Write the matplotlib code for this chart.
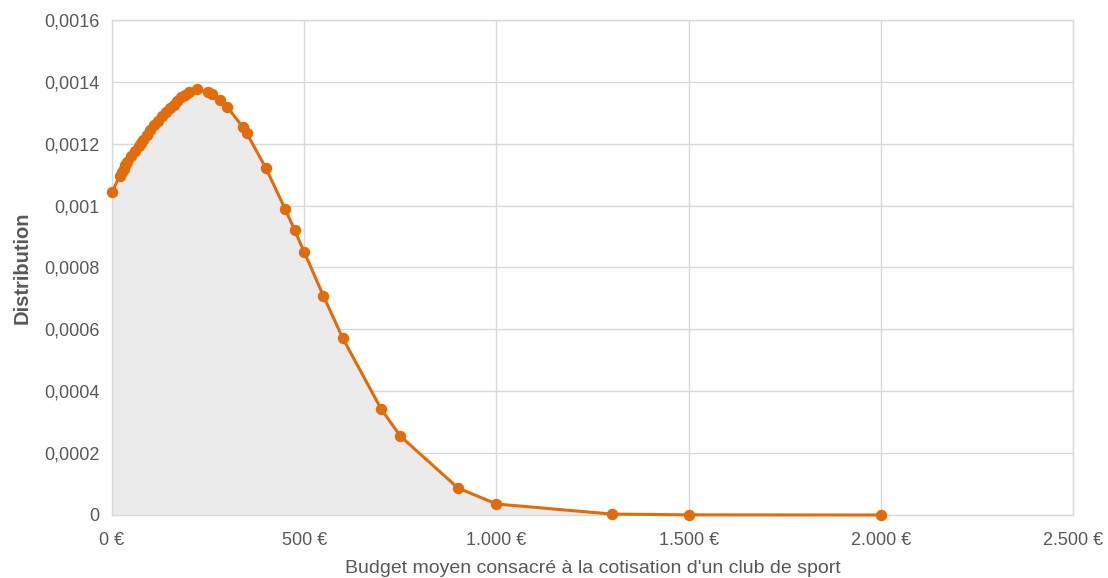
import matplotlib
matplotlib.use("Agg")
import matplotlib.pyplot as plt
from matplotlib.ticker import FuncFormatter, MultipleLocator

budget = [0, 20, 25, 30, 35, 40, 50, 60, 70, 75, 80, 90, 100, 110, 120, 130, 140,
          150, 160, 170, 180, 190, 200, 220, 250, 260, 280, 300, 340, 350, 400,
          450, 475, 500, 550, 600, 700, 750, 900, 1000, 1300, 1500, 2000]
distribution = [0.001044, 0.001096, 0.001109, 0.001118, 0.001131, 0.001141, 0.001160,
                0.001177, 0.001193, 0.001202, 0.001212, 0.001228, 0.001244, 0.001261,
                0.001273, 0.001290, 0.001303, 0.001316, 0.001325, 0.001338, 0.001351,
                0.001357, 0.001367, 0.001376, 0.001366, 0.001360, 0.001341, 0.001319,
                0.001254, 0.001235, 0.001122, 0.000990, 0.000921, 0.000850, 0.000708,
                0.000572, 0.000343, 0.000255, 0.0000873, 0.0000356, 0.000003,
                0.0000005, 0.0]

plt.rcParams['font.family'] = ['Liberation Sans', 'DejaVu Sans']

fig = plt.figure(figsize=(11.08, 5.78), dpi=100)
ax = fig.add_axes([0.1011, 0.109, 0.8673, 0.8564])

orange = '#E36C0A'
ax.fill_between(budget, distribution, 0, color='#EBEBEB', zorder=1, linewidth=0)
ax.plot(budget, distribution, color=orange, linewidth=2.2, marker='o',
        markersize=7.2, zorder=3, clip_on=False)

ax.set_xlim(0, 2500)
ax.set_ylim(0, 0.0016)
ax.xaxis.set_major_locator(MultipleLocator(500))
ax.yaxis.set_major_locator(MultipleLocator(0.0002))

def yfmt(v, pos):
    s = f"{v:.4f}".rstrip('0').rstrip('.')
    return s.replace('.', ',')

def xfmt(v, pos):
    return f"{int(round(v)):,}".replace(',', '.') + " €"

ax.yaxis.set_major_formatter(FuncFormatter(yfmt))
ax.xaxis.set_major_formatter(FuncFormatter(xfmt))

ax.grid(True, color='#D9D9D9', linewidth=1.0, zorder=0)
ax.set_axisbelow(True)
for s in ax.spines.values():
    s.set_color('#D9D9D9')
    s.set_linewidth(1.0)

ax.tick_params(axis='both', length=0, labelsize=13, labelcolor='#595959')
ax.tick_params(axis='y', pad=9)
ax.tick_params(axis='x', pad=12)

ax.set_xlabel("Budget moyen consacré à la cotisation d'un club de sport",
              fontsize=14, color='#595959', labelpad=8)
ax.set_ylabel("Distribution", fontsize=14.5, color='#595959', fontweight='bold',
              labelpad=9)

fig.savefig("out.png", dpi=100)
